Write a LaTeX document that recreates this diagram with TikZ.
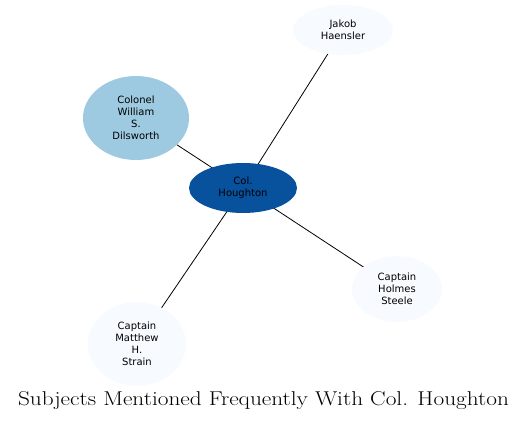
\documentclass[tikz,border=0pt]{standalone}
\usepackage{fontspec}
\setsansfont{DejaVu Sans}
\usetikzlibrary{shapes.geometric,backgrounds}

\definecolor{hubblue}{HTML}{08519C}
\definecolor{midblue}{HTML}{9ECAE1}
\definecolor{paleblue}{HTML}{F7FBFF}

\begin{document}
\begin{tikzpicture}[x=1pt, y=-1pt,
    subj/.style={ellipse, inner sep=0pt, align=center, font=\sffamily\fontsize{10}{12}\selectfont, text=black},
    hub/.style={subj, fill=hubblue, minimum width=108pt, minimum height=50pt},
    near/.style={subj, fill=midblue},
    far/.style={subj, fill=paleblue},
    link/.style={black, line width=0.8pt}
]
\useasboundingbox (0,0) rectangle (528,422);

\node[hub] (H) at (243,188) {Col.\\Houghton};
\node[near, minimum width=106pt, minimum height=84pt] (D) at (136,118) {Colonel\\William\\S.\\Dilsworth};
\node[far, minimum width=100pt, minimum height=50pt] (J) at (343,30) {Jakob\\Haensler};
\node[far, minimum width=90pt, minimum height=66pt] (S) at (397,289) {Captain\\Holmes\\Steele};
\node[far, minimum width=98pt, minimum height=84pt] (M) at (137,344) {Captain\\Matthew\\H.\\Strain};

\node[font=\fontsize{20}{24}\selectfont, anchor=base] (T) at (263.5,406) {\scalebox{1.164}[1]{Subjects Mentioned Frequently With Col. Houghton}};

\begin{scope}[on background layer]
\draw[link] (H.center) -- (J.center);
\draw[link] (H.center) -- (D.center);
\draw[link] (H.center) -- (S.center);
\draw[link] (H.center) -- (M.center);
\end{scope}
\end{tikzpicture}
\end{document}
